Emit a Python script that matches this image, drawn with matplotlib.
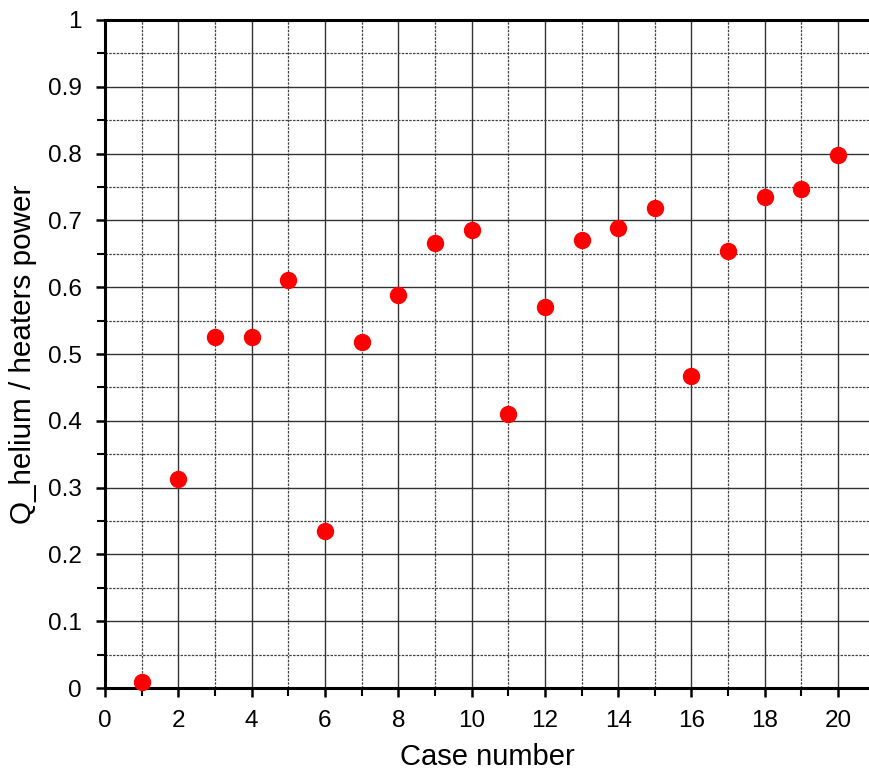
import numpy as np
import matplotlib.pyplot as plt
from matplotlib.ticker import MultipleLocator

plt.rcParams['font.family'] = ['Liberation Sans', 'DejaVu Sans']

case_number = list(range(1, 21))
ratio = [0.009, 0.313, 0.525, 0.525, 0.611, 0.235, 0.518, 0.588, 0.666, 0.686,
         0.410, 0.570, 0.671, 0.689, 0.719, 0.467, 0.654, 0.735, 0.747, 0.798]

fig = plt.figure(figsize=(8.7, 7.72), dpi=100)
ax = fig.add_axes([0.1207, 0.1088, 0.8793, 0.8653])

ax.plot(case_number, ratio, 'o', color='red', markersize=11.5, zorder=5, clip_on=False)

ax.set_xlim(0, 20.87)
ax.set_ylim(0, 1)
ax.xaxis.set_major_locator(MultipleLocator(2))
ax.xaxis.set_minor_locator(MultipleLocator(1))
ax.yaxis.set_major_locator(MultipleLocator(0.1))
ax.yaxis.set_minor_locator(MultipleLocator(0.05))
ax.yaxis.set_major_formatter(plt.FuncFormatter(lambda v, p: f'{v:g}'))

# solid major grid, dotted minor grid (x minor at odd numbers)
ax.grid(which='major', color='#333333', linestyle='-', linewidth=1.0)
ax.grid(which='minor', color='#444444', linestyle=(0, (2, 1)), linewidth=0.9)
ax.set_axisbelow(True)

for side in ['left', 'bottom', 'top']:
    ax.spines[side].set_linewidth(2.2)
ax.spines['right'].set_visible(False)

ax.tick_params(which='major', direction='out', length=6.5, width=1.8, labelsize=17.5)
ax.tick_params(which='minor', direction='out', length=5.5, width=1.5)
ax.tick_params(axis='x', which='major', pad=9)
ax.tick_params(axis='y', which='major', pad=10)
ax.tick_params(axis='x', top=False)

ax.set_xlabel('Case number', fontsize=21, labelpad=8)
ax.set_ylabel('Q_helium / heaters power', fontsize=21.3, labelpad=8)

plt.savefig('out.png', dpi=100)
